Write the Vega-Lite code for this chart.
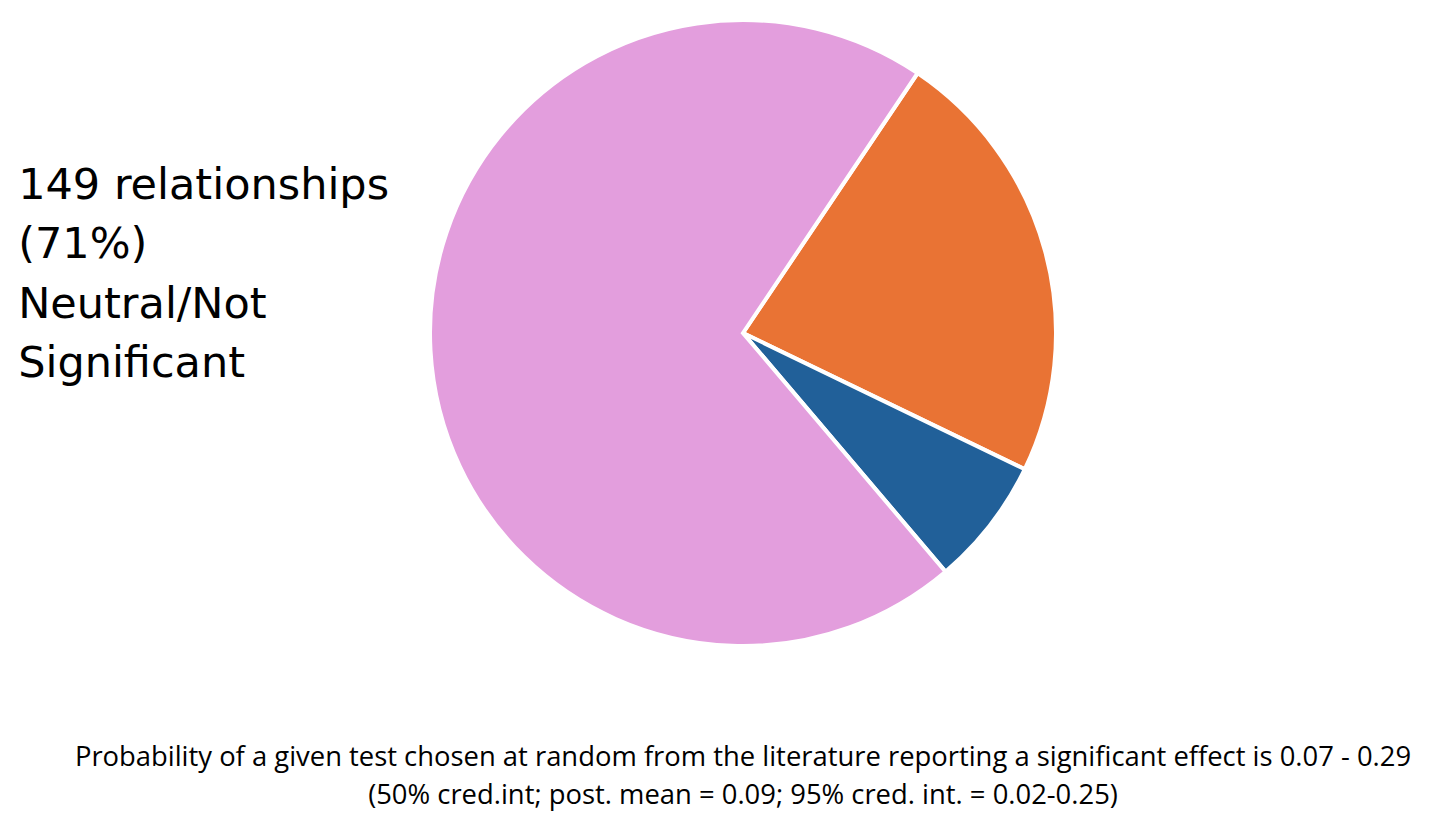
{
  "$schema": "https://vega.github.io/schema/vega-lite/v6.json",
  "width": 1390,
  "height": 666,
  "autosize": {"type": "none"},
  "padding": {"left": 48, "top": 0, "right": 0, "bottom": 154},
  "background": "white",
  "title": {
    "text": ["Probability of a given test chosen at random from the literature reporting a significant effect is 0.07 - 0.29", "(50% cred.int; post. mean = 0.09; 95% cred. int. = 0.02-0.25)"],
    "orient": "bottom",
    "anchor": "middle",
    "offset": 78,
    "font": "Open Sans",
    "fontSize": 27.4,
    "fontWeight": "normal",
    "color": "black",
    "lineHeight": 38
  },
  "data": {
    "values": [
      {"category": "Significant positive", "count": 48, "order": 1, "label": ""},
      {"category": "Significant negative", "count": 14, "order": 2, "label": ""},
      {"category": "Neutral/Not Significant", "count": 149, "order": 3, "label": ["149 relationships", "(71%)", "Neutral/Not", "Significant"]}
    ]
  },
  "encoding": {
    "theta": {"field": "count", "type": "quantitative", "stack": true, "scale": {"range": [0.5917, 6.8749]}},
    "order": {"field": "order", "type": "quantitative"},
    "color": {
      "field": "category",
      "type": "nominal",
      "scale": {
        "domain": ["Significant positive", "Significant negative", "Neutral/Not Significant"],
        "range": ["#E97334", "#216099", "#E39EDD"]
      },
      "legend": null
    }
  },
  "layer": [
    {"mark": {"type": "arc", "outerRadius": 313, "stroke": "white", "strokeWidth": 4}},
    {
      "mark": {"type": "text", "radius": 726, "align": "left", "baseline": "top", "dy": -209, "font": "DejaVu Sans", "fontSize": 43, "lineHeight": 59.5},
      "encoding": {"text": {"field": "label", "type": "nominal"}, "color": {"value": "black"}}
    }
  ],
  "config": {"view": {"stroke": null}}
}
